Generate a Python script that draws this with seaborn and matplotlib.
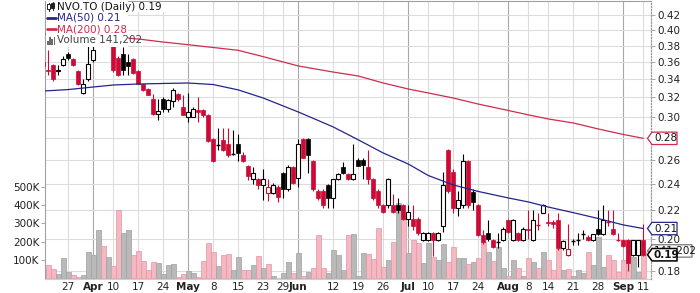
import numpy as np
import pandas as pd
import matplotlib
matplotlib.use("Agg")
import matplotlib.pyplot as plt
import seaborn as sns
from matplotlib.patches import Rectangle, Polygon
from matplotlib.lines import Line2D
from matplotlib.ticker import FixedLocator, NullLocator, FixedFormatter

sns.set_theme(style="white")
plt.rcParams["font.family"] = ["DejaVu Sans"]

# ---------------- data ----------------
holidays = ["2023-04-07", "2023-05-22", "2023-07-03", "2023-08-07", "2023-09-04"]
trade_days = pd.bdate_range("2023-03-20", "2023-09-11")
trade_days = trade_days[~trade_days.isin(pd.to_datetime(holidays))]

opens = [0.360, 0.350, 0.356, 0.349, 0.356, 0.369, 0.363, 0.349, 0.325, 0.340,
         0.362, 0.386, 0.395, 0.388, 0.385, 0.365, 0.370, 0.360, 0.363, 0.349,
         0.334, 0.329, 0.318, 0.303, 0.318, 0.308, 0.316, 0.324, 0.310, 0.300,
         0.300, 0.307, 0.307, 0.302, 0.279, 0.273, 0.278, 0.274, 0.265, 0.274,
         0.264, 0.255, 0.244, 0.244, 0.239, 0.233, 0.233, 0.238, 0.249, 0.236,
         0.254, 0.245, 0.279, 0.279, 0.259, 0.235, 0.235, 0.239, 0.229, 0.244,
         0.254, 0.248, 0.244, 0.260, 0.260, 0.254, 0.244, 0.235, 0.224, 0.224,
         0.224, 0.224, 0.224, 0.214, 0.214, 0.214, 0.1995, 0.1995, 0.204, 0.1995,
         0.209, 0.269, 0.250, 0.222, 0.224, 0.259, 0.234, 0.224, 0.203, 0.204,
         0.1995, 0.198, 0.1995, 0.213, 0.1995, 0.204, 0.1995, 0.207, 0.1995, 0.210,
         0.2185, 0.212, 0.2115, 0.213, 0.194, 0.190, 0.1985, 0.1995, 0.2035, 0.2015,
         0.1995, 0.207, 0.2035, 0.212, 0.207, 0.200, 0.1995, 0.1995, 0.190, 0.190,
         0.1995]
highs = [0.363, 0.374, 0.358, 0.356, 0.367, 0.372, 0.364, 0.350, 0.340, 0.380,
         0.385, 0.400, 0.400, 0.400, 0.388, 0.367, 0.378, 0.370, 0.364, 0.350,
         0.335, 0.330, 0.324, 0.318, 0.320, 0.318, 0.330, 0.325, 0.323, 0.325,
         0.310, 0.320, 0.308, 0.303, 0.280, 0.289, 0.289, 0.289, 0.287, 0.283,
         0.267, 0.256, 0.254, 0.245, 0.252, 0.244, 0.241, 0.239, 0.250, 0.256,
         0.255, 0.279, 0.280, 0.280, 0.260, 0.236, 0.236, 0.240, 0.244, 0.249,
         0.258, 0.249, 0.274, 0.262, 0.262, 0.269, 0.245, 0.236, 0.225, 0.245,
         0.232, 0.229, 0.225, 0.224, 0.224, 0.215, 0.205, 0.205, 0.205, 0.205,
         0.250, 0.270, 0.252, 0.235, 0.265, 0.260, 0.236, 0.225, 0.206, 0.213,
         0.200, 0.204, 0.208, 0.214, 0.214, 0.205, 0.208, 0.220, 0.220, 0.2185,
         0.225, 0.2185, 0.2135, 0.2185, 0.1995, 0.210, 0.200, 0.204, 0.2065, 0.203,
         0.2035, 0.220, 0.224, 0.2205, 0.220, 0.204, 0.200, 0.200, 0.1995, 0.1995,
         0.210]
lows = [0.352, 0.345, 0.338, 0.345, 0.355, 0.362, 0.355, 0.333, 0.324, 0.338,
        0.360, 0.384, 0.385, 0.385, 0.348, 0.343, 0.345, 0.345, 0.346, 0.334,
        0.327, 0.322, 0.302, 0.297, 0.305, 0.305, 0.310, 0.316, 0.302, 0.295,
        0.300, 0.295, 0.300, 0.276, 0.258, 0.269, 0.268, 0.263, 0.264, 0.259,
        0.258, 0.243, 0.240, 0.236, 0.228, 0.227, 0.232, 0.226, 0.229, 0.235,
        0.240, 0.238, 0.262, 0.249, 0.235, 0.228, 0.222, 0.222, 0.222, 0.243,
        0.248, 0.243, 0.243, 0.255, 0.244, 0.240, 0.228, 0.222, 0.218, 0.222,
        0.218, 0.218, 0.213, 0.209, 0.206, 0.203, 0.199, 0.199, 0.189, 0.199,
        0.205, 0.233, 0.218, 0.216, 0.222, 0.222, 0.220, 0.202, 0.197, 0.199,
        0.194, 0.194, 0.199, 0.204, 0.199, 0.199, 0.199, 0.200, 0.199, 0.2065,
        0.218, 0.209, 0.2075, 0.193, 0.193, 0.189, 0.196, 0.196, 0.200, 0.199,
        0.199, 0.203, 0.203, 0.209, 0.203, 0.199, 0.195, 0.180, 0.189, 0.1825,
        0.189]
closes = [0.355, 0.349, 0.340, 0.350, 0.363, 0.364, 0.356, 0.334, 0.335, 0.357,
          0.374, 0.395, 0.388, 0.392, 0.350, 0.345, 0.350, 0.355, 0.347, 0.335,
          0.328, 0.323, 0.303, 0.306, 0.308, 0.317, 0.328, 0.318, 0.302, 0.305,
          0.308, 0.305, 0.302, 0.277, 0.259, 0.273, 0.269, 0.264, 0.265, 0.266,
          0.259, 0.247, 0.249, 0.239, 0.244, 0.238, 0.239, 0.230, 0.236, 0.254,
          0.241, 0.274, 0.262, 0.264, 0.236, 0.229, 0.224, 0.229, 0.244, 0.248,
          0.249, 0.244, 0.248, 0.255, 0.256, 0.244, 0.229, 0.224, 0.219, 0.244,
          0.219, 0.220, 0.214, 0.219, 0.209, 0.204, 0.204, 0.204, 0.1995, 0.204,
          0.239, 0.235, 0.2215, 0.228, 0.259, 0.224, 0.226, 0.203, 0.198, 0.200,
          0.195, 0.198, 0.207, 0.205, 0.213, 0.1995, 0.207, 0.206, 0.213, 0.2097,
          0.224, 0.211, 0.210, 0.194, 0.1985, 0.1935, 0.1985, 0.1995, 0.2035, 0.1995,
          0.2035, 0.2035, 0.213, 0.2115, 0.2035, 0.1995, 0.1955, 0.185, 0.1995, 0.1995,
          0.190]
volumes_k = [45, 73, 51, 23, 109, 33, 18, 5, 18, 145,
             127, 264, 176, 118, 67, 373, 249, 264, 127, 149,
             96, 45, 91, 82, 23, 73, 78, 5, 23, 40,
             31, 5, 95, 191, 144, 67, 127, 133, 45, 118,
             45, 45, 73, 122, 55, 78, 13, 3, 29, 89,
             31, 137, 13, 36, 55, 237, 55, 27, 155, 127,
             45, 237, 242, 13, 140, 133, 104, 273, 64, 100,
             200, 410, 330, 138, 209, 191, 85, 191, 118, 100,
             188, 91, 173, 109, 109, 78, 91, 109, 200, 145,
             96, 169, 55, 13, 100, 55, 13, 109, 91, 55,
             145, 100, 45, 158, 45, 49, 13, 45, 27, 145,
             73, 227, 60, 127, 100, 36, 100, 209, 118, 36,
             141.202]

ma_dates = ["2023-03-20", "2023-03-27", "2023-04-03", "2023-04-10", "2023-04-17",
            "2023-04-24", "2023-05-01", "2023-05-08", "2023-05-15", "2023-05-23",
            "2023-05-29", "2023-06-01", "2023-06-12", "2023-06-19", "2023-06-26",
            "2023-07-04", "2023-07-10", "2023-07-17", "2023-07-24", "2023-08-01",
            "2023-08-08", "2023-08-14", "2023-08-21", "2023-08-28", "2023-09-05",
            "2023-09-11"]
ma50 = [0.3268, 0.3284, 0.3312, 0.3334, 0.3345, 0.3351, 0.3356, 0.3339, 0.3280,
        0.3193, 0.3110, 0.3049, 0.2901, 0.2780, 0.2661, 0.2566, 0.2470, 0.2394,
        0.2343, 0.2293, 0.2263, 0.2225, 0.2184, 0.2142, 0.2097, 0.2072]
ma200 = [0.3948, 0.3934, 0.3920, 0.3910, 0.3883, 0.3844, 0.3810, 0.3775, 0.3740,
         0.3662, 0.3598, 0.3551, 0.3480, 0.3435, 0.3356, 0.3290, 0.3247, 0.3193,
         0.3130, 0.3064, 0.3020, 0.2979, 0.2940, 0.2882, 0.2830, 0.2794]

tick_dates = ["2023-03-27", "2023-04-03", "2023-04-10", "2023-04-17", "2023-04-24",
              "2023-05-01", "2023-05-08", "2023-05-15", "2023-05-23", "2023-05-29",
              "2023-06-01", "2023-06-12", "2023-06-19", "2023-06-26", "2023-07-04",
              "2023-07-10", "2023-07-17", "2023-07-24", "2023-08-01", "2023-08-08",
              "2023-08-14", "2023-08-21", "2023-08-28", "2023-09-05", "2023-09-11"]
tick_labels = ["27", "Apr", "10", "17", "24", "May", "8", "15", "23", "29", "Jun",
               "12", "19", "26", "Jul", "10", "17", "24", "Aug", "8", "14", "21",
               "28", "Sep", "11"]
month_labels = ["Apr", "May", "Jun", "Jul", "Aug", "Sep"]

price_ticks = [0.18, 0.20, 0.22, 0.24, 0.26, 0.28, 0.30, 0.32, 0.34, 0.36, 0.38, 0.40, 0.42]
vol_ticks = [100000, 200000, 300000, 400000, 500000]
vol_tick_labels = ["100K", "200K", "300K", "400K", "500K"]

symbol_text = "NVO.TO (Daily) 0.19"
ma50_text = "MA(50) 0.21"
ma200_text = "MA(200) 0.28"
vol_text = "Volume 141,202"

# ---------------- figure ----------------
W, H = 700, 293
fig = plt.figure(figsize=(W / 100, H / 100), dpi=100)
fig.patch.set_facecolor("white")
ax_v = fig.add_axes([45 / W, 14 / H, 606 / W, 278 / H])
ax_p = ax_v.twinx()

day_index = {d.strftime("%Y-%m-%d"): i for i, d in enumerate(trade_days)}
pos = np.arange(len(trade_days))
O = np.array(opens); Hh = np.array(highs); L = np.array(lows); C = np.array(closes)
V = np.array(volumes_k) * 1000.0

up = np.r_[False, C[1:] >= C[:-1]]
RED = "#cc0a35"
NAVY = "#24248c"
MARED = "#cf2c4c"
cols = np.where(up, "#000000", RED)

P_LO, P_HI = 0.1753, 0.4404
X_LO, X_HI = 0.34, 121.54

# grid (drawn on the lower axes)
tick_pos = [day_index[d] for d in tick_dates]
for tp, lab in zip(tick_pos, tick_labels):
    ax_v.axvline(tp, color="#a8a8a8" if lab in month_labels else "#dcdcdc",
                 lw=0.8, zorder=0)
for t in price_ticks:
    f = (np.log(t) - np.log(P_LO)) / (np.log(P_HI) - np.log(P_LO))
    ax_v.plot([0, 1], [f, f], transform=ax_v.transAxes, color="#dcdcdc", lw=0.8, zorder=0)

# volume
vcols = np.where(up, "#b9b9b9", "#f3b8c1")
vedge = np.where(up, "#a0a0a0", "#e495a3")
ax_v.bar(pos, V, width=0.92, color=vcols, edgecolor=vedge, linewidth=0.5, zorder=2)

# candles
ax_p.set_yscale("log")
ax_p.vlines(pos, L, Hh, colors=cols, linewidth=0.8, zorder=2)
bw = 0.72
for i in pos:
    o, c, col = O[i], C[i], cols[i]
    if abs(c - o) < 0.0008:
        ax_p.hlines(c, i - bw / 2, i + bw / 2, colors=col, linewidth=1.0, zorder=3)
    elif c < o:
        ax_p.bar(i, o - c, bottom=c, width=bw, color=col, edgecolor=col, linewidth=0.5, zorder=3)
    else:
        ax_p.bar(i, c - o, bottom=o, width=bw, facecolor="white", edgecolor=col, linewidth=0.8, zorder=3)

# moving averages
ma_pos = [day_index[d] for d in ma_dates]
sns.lineplot(x=ma_pos, y=ma200, ax=ax_p, color=MARED, linewidth=0.9, zorder=4, legend=False)
sns.lineplot(x=ma_pos, y=ma50, ax=ax_p, color=NAVY, linewidth=0.9, zorder=4, legend=False)

# limits
ax_p.set_ylim(P_LO, P_HI)
ax_v.set_ylim(-3825, 1515000)
ax_v.set_xlim(X_LO, X_HI)
ax_p.set_xlim(X_LO, X_HI)
ax_p.set_xlabel(""); ax_p.set_ylabel(""); ax_v.set_xlabel(""); ax_v.set_ylabel("")

# ticks (0.28 label is shown inside the MA(200) flag instead)
price_tick_text = ["" if abs(t - 0.28) < 1e-9 else f"{t:.2f}" for t in price_ticks]
ax_p.yaxis.set_major_locator(FixedLocator(price_ticks))
ax_p.yaxis.set_major_formatter(FixedFormatter(price_tick_text))
ax_p.yaxis.set_minor_locator(NullLocator())
ax_p.tick_params(axis="y", which="major", right=True, left=False, labelright=True,
                 labelleft=False, length=3, width=0.6, color="#999999", pad=1.5,
                 labelsize=7.5, labelcolor="#222222")
ax_v.set_yticks(vol_ticks)
ax_v.set_yticklabels(vol_tick_labels)
ax_v.tick_params(axis="y", left=True, right=False, length=3, width=0.6, color="#999999",
                 pad=1, labelsize=7.5, labelcolor="#222222")
ax_v.set_xticks(tick_pos)
ax_v.set_xticklabels(tick_labels)
ax_v.tick_params(axis="x", bottom=True, length=0, pad=2.5, labelsize=7.5, labelcolor="#222222")
for tl in ax_v.get_xticklabels():
    if tl.get_text() in month_labels:
        tl.set_fontweight("bold")

for s in ["left", "top"]:
    ax_v.spines[s].set_color("#a0a0a0"); ax_v.spines[s].set_linewidth(0.8)
ax_v.spines["bottom"].set_color("#cfcfcf"); ax_v.spines["bottom"].set_linewidth(0.8)
ax_v.spines["right"].set_visible(False)
for s in ["left", "top", "bottom"]:
    ax_p.spines[s].set_visible(False)
ax_p.spines["right"].set_color("#999999")
ax_p.spines["right"].set_linestyle((0, (1, 1.5)))
ax_p.spines["right"].set_linewidth(0.9)
ax_p.grid(False); ax_v.grid(False)

# ---------------- legend (top left) ----------------
def fx(px):
    return px / W

def fy(py):
    return 1 - py / H

fig.add_artist(Rectangle((fx(45.5), fy(46.5)), 82 / W, 45 / H, transform=fig.transFigure,
                         facecolor="white", edgecolor="none", zorder=5))
fig.add_artist(Rectangle((fx(45.5), fy(12)), 130 / W, 10.5 / H, transform=fig.transFigure,
                         facecolor="white", edgecolor="none", zorder=5))
# candle icon
fig.add_artist(Line2D([fx(48.5)] * 2, [fy(2.5), fy(10.5)], transform=fig.transFigure, color="#222", lw=0.8, zorder=6))
fig.add_artist(Rectangle((fx(47.3), fy(9)), 2.4 / W, 4.5 / H, transform=fig.transFigure,
                         facecolor="white", edgecolor="#222", lw=0.7, zorder=7))
fig.add_artist(Line2D([fx(52.5)] * 2, [fy(2), fy(10)], transform=fig.transFigure, color="#222", lw=0.8, zorder=6))
fig.add_artist(Rectangle((fx(51.3), fy(8)), 2.4 / W, 4.5 / H, transform=fig.transFigure,
                         facecolor="#222", edgecolor="#222", lw=0.7, zorder=7))
fig.text(fx(57), fy(7), symbol_text, fontsize=7.5, color="#111111", va="center", ha="left", zorder=8)

fig.add_artist(Line2D([fx(46.5), fx(56)], [fy(17.5)] * 2, transform=fig.transFigure, color=NAVY, lw=2, zorder=6))
fig.text(fx(57), fy(17.5), ma50_text, fontsize=7.5, color=NAVY, va="center", ha="left", zorder=8)
fig.add_artist(Line2D([fx(46.5), fx(56)], [fy(29)] * 2, transform=fig.transFigure, color=MARED, lw=2, zorder=6))
fig.text(fx(57), fy(29), ma200_text, fontsize=7.5, color=MARED, va="center", ha="left", zorder=8)
for k, hgt in enumerate([4, 7, 5, 8]):
    fig.add_artist(Rectangle((fx(47 + 2.2 * k), fy(44.5)), 1.8 / W, hgt / H, transform=fig.transFigure,
                             facecolor="#6a6a6a", edgecolor="none", zorder=6))
fig.text(fx(57), fy(40.5), vol_text, fontsize=7.5, color="#444444", va="center", ha="left", zorder=8)

# ---------------- value flags (right) ----------------
inv = fig.transFigure.inverted()

def val_to_fy(ax, v):
    return inv.transform(ax.transData.transform((0.0, v)))[1]

def flag(yf, x1, text, edge, bold=False, lw=0.9, z=7):
    hh = 6.2 / H
    x0 = 652
    pts = [(fx(x0 - 4.5), yf), (fx(x0), yf + hh), (fx(x1), yf + hh), (fx(x1), yf - hh), (fx(x0), yf - hh)]
    fig.add_artist(Polygon(pts, closed=True, transform=fig.transFigure, facecolor="white",
                           edgecolor=edge, lw=lw, zorder=z))
    fig.text(fx(x0 + 2), yf, text, fontsize=7.5, color="#111111", va="center", ha="left",
             fontweight="bold" if bold else "normal", zorder=z + 0.5)

flag(val_to_fy(ax_p, ma200[-1]), 677, f"{ma200[-1]:.2f}", MARED)
flag(val_to_fy(ax_p, ma50[-1]), 677, f"{ma50[-1]:.2f}", NAVY)
flag(val_to_fy(ax_v, V[-1]) + 1.5 / H, 692, f"{int(round(V[-1])):,}", "#777777")
flag(val_to_fy(ax_p, C[-1]), 677, f"{C[-1]:.2f}", "#000000", bold=True, lw=1.1, z=9)

fig.savefig("out.png", dpi=100, facecolor="white")
